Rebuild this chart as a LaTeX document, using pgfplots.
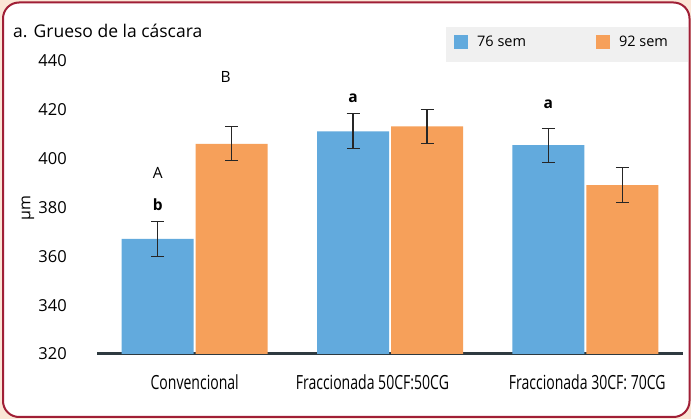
\documentclass[border=0pt]{standalone}
\usepackage{pgfplots}
\pgfplotsset{compat=1.18}
\usepackage{fontspec}
\setmainfont{Open Sans}
\newfontfamily\condfont[FakeStretch=0.72]{Open Sans}

\definecolor{sem76}{HTML}{62AADD}
\definecolor{sem92}{HTML}{F6A05A}
\definecolor{peach}{HTML}{FBE6D6}
\definecolor{framered}{HTML}{A01F36}
\definecolor{axisdark}{HTML}{2E3A40}
\definecolor{legendgray}{HTML}{F0F0F0}

\pgfplotsset{
  errstyle/.style={
    error bars/y dir=both, error bars/y explicit,
    error bars/error bar style={line width=1.1pt, black!85},
    error bars/error mark options={rotate=90, line width=1.1pt, mark size=6.5pt, black!85},
  },
}

\begin{document}
\begin{tikzpicture}[x=1pt,y=1pt]
\useasboundingbox (0,0) rectangle (691,-419);
\fill[peach] (0,0) rectangle (691,-419);
\draw[framered, line width=2pt, fill=white, rounded corners=16pt] (3,-2.5) rectangle (689.5,-417);
\fill[legendgray] (446,-27) rectangle (688,-62);
\node[anchor=base west, inner sep=0, font=\fontsize{17.5}{20}\selectfont] at (13,-37.3) {a. Grueso de la cáscara};
\node[rotate=90, inner sep=0, font=\fontsize{16}{19}\selectfont] at (28,-208) {µm};

\begin{axis}[
  at={(97pt,-354pt)}, anchor=south west,
  scale only axis, width=586pt, height=293pt,
  xmin=-0.5, xmax=2.5, ymin=320, ymax=440,
  ybar=2pt, bar width=72pt,
  axis x line=bottom, axis y line=left,
  x axis line style={line width=3pt, color=axisdark, -},
  y axis line style={draw=none, -},
  xtick={0,0.91,2.01},
  xticklabels={Convencional, Fraccionada 50CF:50CG, Fraccionada 30CF: 70CG},
  ytick={320,340,...,440},
  major tick length=0pt,
  /pgf/number format/assume math mode=true,
  xticklabel style={font=\condfont\fontsize{19.5}{22}\selectfont, anchor=base, inner sep=0pt, yshift=-35pt},
  yticklabel style={font=\fontsize{16.5}{20}\selectfont, anchor=east, inner sep=0pt, xshift=-30pt},
  legend columns=2,
  legend style={draw=none, fill=none, inner sep=0pt,
    at={(axis description cs:0.6092,1.066)}, anchor=west,
    font=\fontsize{14.5}{17}\selectfont,
    nodes={inner sep=0pt},
    /tikz/every odd column/.append style={column sep=9pt},
    /tikz/every even column/.append style={column sep=70pt}},
  legend image code/.code={\fill[#1] (0pt,-7pt) rectangle (14pt,7pt);},
]
\addplot[fill=sem76, draw=none, errstyle] coordinates {
  (0,367.1) +- (0,7.1)
  (1,411.2) +- (0,7.2)
  (2,405.5) +- (0,7.0)
};
\addlegendentry{76 sem}
\addplot[fill=sem92, draw=none, errstyle] coordinates {
  (0,406.1) +- (0,7.0)
  (1,413.2) +- (0,7.1)
  (2,389.2) +- (0,7.1)
};
\addlegendentry{92 sem}

% significance letters
\node[font=\fontsize{15.5}{18}\selectfont, inner sep=0] at ([xshift=-37pt]axis cs:0,394.1) {A};
\node[font=\bfseries\fontsize{15.5}{18}\selectfont, inner sep=0] at ([xshift=-37pt]axis cs:0,381.0) {b};
\node[font=\fontsize{15.5}{18}\selectfont, inner sep=0] at ([xshift=31pt]axis cs:0,433.4) {B};
\node[font=\bfseries\fontsize{15.5}{18}\selectfont, inner sep=0] at ([xshift=-37pt]axis cs:1,424.8) {a};
\node[font=\bfseries\fontsize{15.5}{18}\selectfont, inner sep=0] at ([xshift=-37pt]axis cs:2,422.4) {a};
\end{axis}
\end{tikzpicture}
\end{document}
